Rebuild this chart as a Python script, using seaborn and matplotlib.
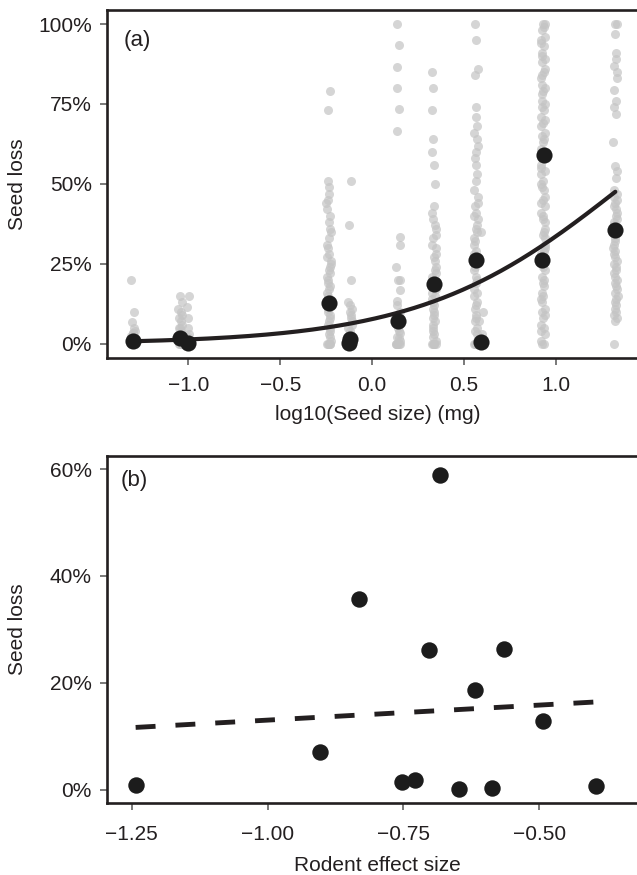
import numpy as np
import pandas as pd
import matplotlib
matplotlib.use("Agg")
import matplotlib.pyplot as plt
from matplotlib.ticker import PercentFormatter
import seaborn as sns

# =========================
# Setup
# =========================
sns.set_theme(style="ticks")
plt.rcParams["font.family"] = ["Liberation Sans", "DejaVu Sans"]
INK = "#231f20"
np.random.seed(7)  # strip jitter only

# =========================
# Data
# =========================
# species means: log10 seed size, rodent effect size, mean seed loss
size_log = [-1.303, -1.044, -1.000, -0.237, -0.119, -0.125, 0.142,
            0.337, 0.563, 0.594, 0.937, 0.922, 1.323]
rodent_effect = [-1.243, -0.729, -0.587, -0.493, -0.753, -0.647, -0.904,
                 -0.618, -0.703, -0.396, -0.682, -0.564, -0.832]
seed_loss = [0.008, 0.018, 0.003, 0.128, 0.014, 0.001, 0.071,
             0.187, 0.262, 0.006, 0.590, 0.263, 0.356]

# logistic fit (seed loss ~ log10 seed size)
fit_intercept = -2.48
fit_slope = 1.80

# raw observations (% seed loss) per seed-size column
raw_sizes = [-1.303, -1.044, -1.000, -0.237, -0.119, 0.142, 0.337,
             0.563, 0.594, 0.930, 1.323]
raw_m130 = [20, 10, 6.7, 5, 4, 3.3, 3.3, 2.5, 1.7, 1.7, 1, 0, 0, 0, 0, 0, 0]
raw_m104 = [15, 13, 11, 10, 9, 8, 7, 6, 5, 5, 4, 3, 3, 2, 2, 1, 1, 0, 0, 0, 0]
raw_m100 = [15, 11.5, 8, 5, 3, 2, 1, 0, 0, 0, 0]
raw_m024 = [79, 73, 51, 49, 47, 45, 44, 42, 40, 38, 36, 35, 33, 31, 30, 28,
            27, 26, 25, 24, 23, 22, 21, 20, 19, 18, 17, 16, 15, 14, 13, 12,
            11, 10, 9, 8, 7, 6, 5, 4, 3, 2, 1, 0, 0, 0, 0, 0]
raw_m012 = [51, 37, 20, 13, 12, 11, 10, 9, 8, 7, 6, 5, 4, 3, 2, 1, 0, 0, 0, 0]
raw_p014 = [100, 93.3, 86.7, 80, 73.3, 66.7, 33.3, 31, 24, 20, 20, 16.7,
            13.3, 12, 10, 8, 6.7, 5, 4, 3.3, 2, 1.7, 1, 0, 0, 0, 0, 0, 0]
raw_p034 = [85, 80, 73, 64, 60, 56, 50, 43, 41, 39, 37, 36, 34, 33, 31, 30,
            28, 27, 26, 24, 23, 22, 21, 20, 19, 18, 17, 16, 15, 14, 13, 12,
            11, 10, 9, 8, 7, 6, 5, 4, 3, 2, 1, 0, 0, 0, 0, 0]
raw_p056 = [100, 95, 86, 84, 74, 71, 68, 66, 64, 62, 60, 58, 56, 53, 51, 48,
            46, 44, 43, 41, 40, 39, 37, 36, 35, 33, 32, 31, 29, 28, 27, 25,
            24, 23, 21, 20, 19, 17, 16, 15, 13, 12, 11, 9, 8, 7, 5, 4, 3, 1,
            0, 0, 0, 0, 0]
raw_p059 = [35, 10, 7, 3, 0, 0, 0]
raw_p093 = [100, 100, 99, 98, 96, 95, 94, 93, 91, 90, 89, 88, 86, 85, 84, 83,
            81, 80, 79, 78, 76, 75, 74, 73, 71, 70, 69, 68, 66, 65, 64, 63,
            61, 60, 59, 58, 56, 55, 54, 53, 51, 50, 49, 48, 46, 45, 44, 43,
            41, 40, 39, 38, 36, 35, 34, 33, 31, 30, 29, 28, 26, 25, 24, 23,
            21, 20, 19, 18, 16, 15, 14, 13, 11, 10, 9, 8, 6, 5, 4, 3, 1, 0, 0]
raw_p132 = [100, 100, 97, 91, 89, 87, 85, 83, 79.5, 76, 74, 72, 63, 55.5,
            54, 52, 48, 47, 46, 45, 44, 43, 42, 41, 40, 39, 38, 37, 36, 35,
            34, 33, 32, 31, 30, 29, 28, 27, 26, 25, 24, 23, 22, 21, 20, 19,
            18, 17, 16, 15, 14, 13, 12, 11, 10, 9, 8, 7, 0]
raw_lists = [raw_m130, raw_m104, raw_m100, raw_m024, raw_m012, raw_p014,
             raw_p034, raw_p056, raw_p059, raw_p093, raw_p132]

raw = pd.DataFrame(
    [(x, v / 100) for x, vals in zip(raw_sizes, raw_lists) for v in vals],
    columns=["size", "loss"],
)
means = pd.DataFrame({"size": size_log, "rodent": rodent_effect, "loss": seed_loss})

xs = np.linspace(min(size_log), max(size_log), 200)
curve = pd.DataFrame({"size": xs,
                      "loss": 1 / (1 + np.exp(-(fit_intercept + fit_slope * xs)))})

# =========================
# Figure Setup
# =========================
fig = plt.figure(figsize=(6.37, 8.75), dpi=100)
ax_a = fig.add_axes([0.168, 0.591, 0.849, 0.398])
ax_b = fig.add_axes([0.168, 0.082, 0.849, 0.397])

# =========================
# Panel (a)
# =========================
sns.stripplot(data=raw, x="size", y="loss", ax=ax_a, native_scale=True,
              orient="x", jitter=0.4, color="#c4c4c4", alpha=0.7, size=6.5,
              linewidth=0, zorder=1)
sns.lineplot(data=curve, x="size", y="loss", ax=ax_a, color=INK, lw=3, zorder=2)
sns.scatterplot(data=means, x="size", y="loss", ax=ax_a, color="#1c1c1c",
                s=135, linewidth=0, zorder=3)
ax_a.set_xlim(-1.443, 1.50)
ax_a.set_ylim(-0.044, 1.045)
ax_a.set_xticks([-1.0, -0.5, 0.0, 0.5, 1.0])
ax_a.set_xticklabels(["\u22121.0", "\u22120.5", "0.0", "0.5", "1.0"])
ax_a.set_yticks([0, 0.25, 0.5, 0.75, 1.0])
ax_a.yaxis.set_major_formatter(PercentFormatter(1.0, decimals=0))
ax_a.set_xlabel("log10(Seed size) (mg)", labelpad=7)
ax_a.set_ylabel("Seed loss")
ax_a.text(0.03, 0.91, "(a)", transform=ax_a.transAxes, fontsize=16,
          color=INK, va="center", ha="left")

# =========================
# Panel (b)
# =========================
sns.regplot(data=means, x="rodent", y="loss", ax=ax_b, ci=None,
            scatter_kws=dict(s=140, color="#1c1c1c", alpha=1, linewidths=0),
            line_kws=dict(color=INK, lw=3.5, dashes=(4.1, 4.1)))
ax_b.set_xlim(-1.2957, -0.30)
ax_b.set_ylim(-0.0257, 0.625)
ax_b.set_xticks([-1.25, -1.00, -0.75, -0.50])
ax_b.set_xticklabels(["\u22121.25", "\u22121.00", "\u22120.75", "\u22120.50"])
ax_b.set_yticks([0, 0.2, 0.4, 0.6])
ax_b.yaxis.set_major_formatter(PercentFormatter(1.0, decimals=0))
ax_b.set_xlabel("Rodent effect size", labelpad=8)
ax_b.set_ylabel("Seed loss")
ax_b.text(0.025, 0.93, "(b)", transform=ax_b.transAxes, fontsize=16,
          color=INK, va="center", ha="left")

# =========================
# Styling
# =========================
for ax in (ax_a, ax_b):
    for sp in ax.spines.values():
        sp.set_linewidth(1.9)
        sp.set_color(INK)
    ax.tick_params(direction="out", length=5, width=1.1, color="#555555",
                   labelsize=15, labelcolor=INK)
    ax.tick_params(axis="y", pad=6)
    ax.xaxis.label.set_size(15)
    ax.yaxis.label.set_size(15)
    ax.xaxis.label.set_color(INK)
    ax.yaxis.label.set_color(INK)
    ax.yaxis.set_label_coords(-0.148, 0.5)
    ax.grid(False)
ax_a.tick_params(axis="x", pad=8)
ax_b.tick_params(axis="x", pad=11)

fig.savefig("out.png", dpi=100)
plt.close(fig)
